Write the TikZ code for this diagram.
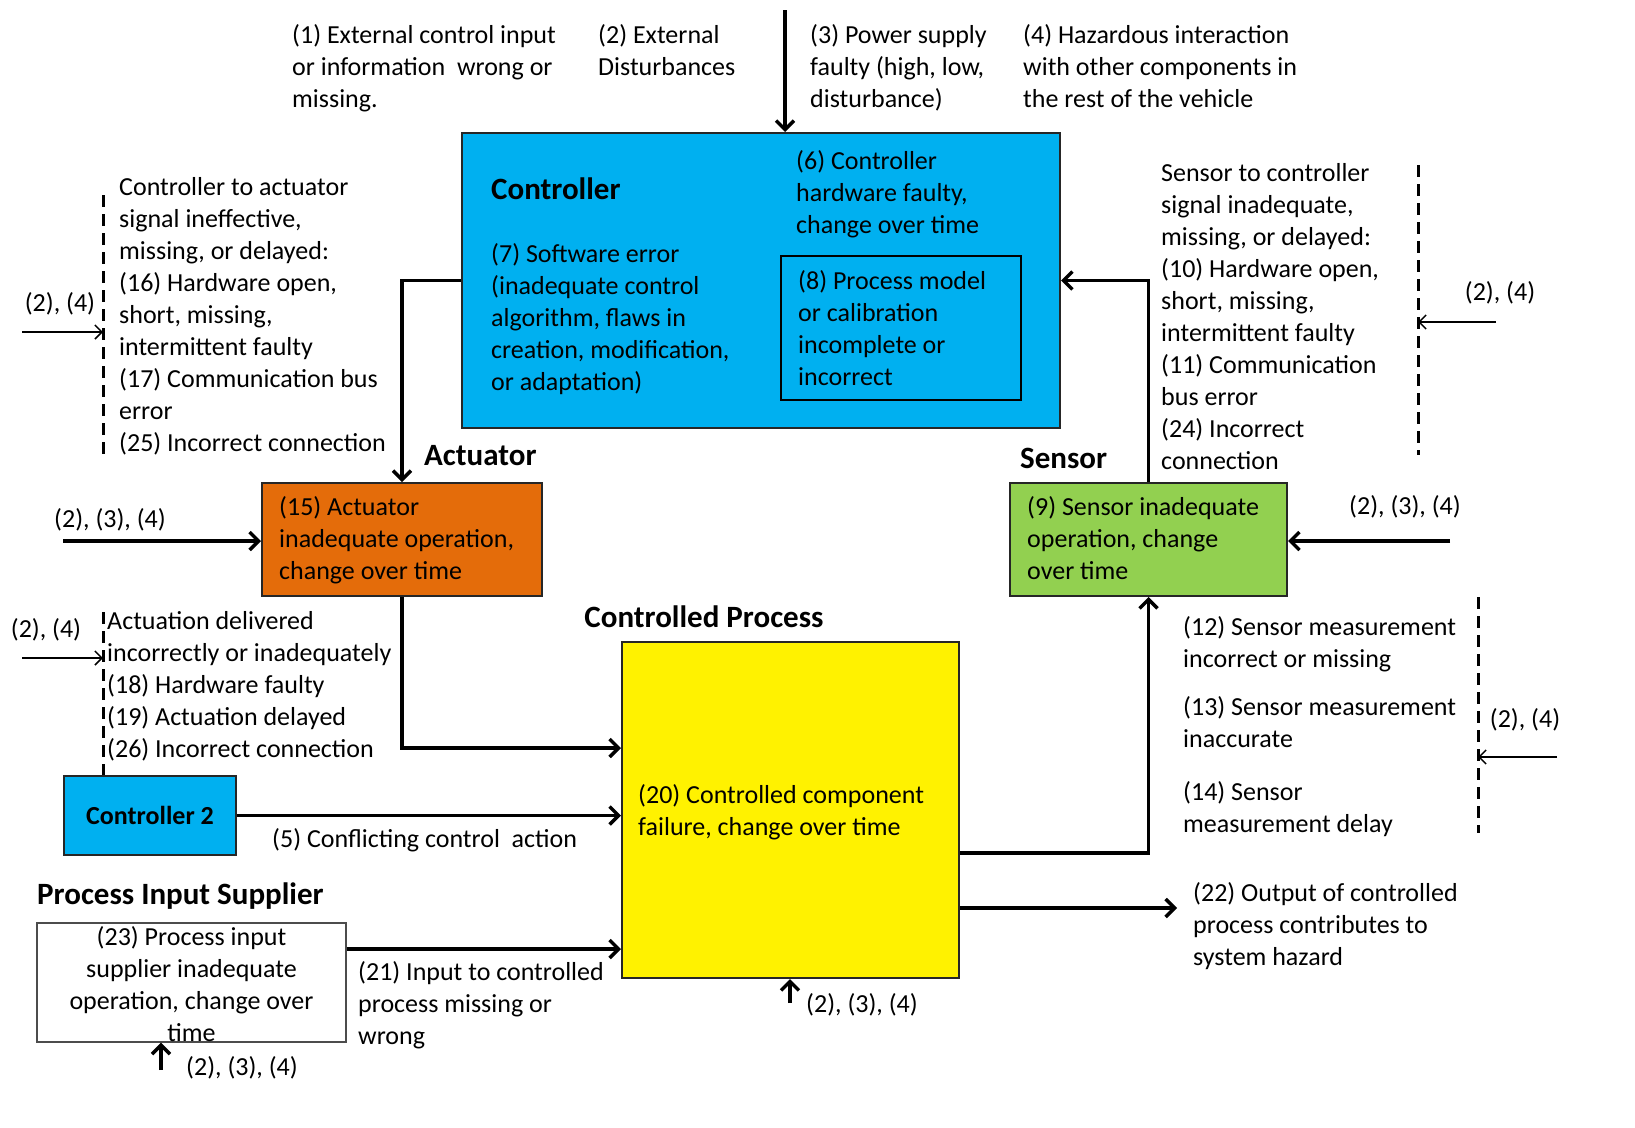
\documentclass[tikz,border=0pt]{standalone}
\usepackage{fontspec}
\setmainfont{Carlito}
\usetikzlibrary{arrows.meta}
\definecolor{ctrlblue}{HTML}{00B0F0}
\definecolor{actorange}{HTML}{E46C0A}
\definecolor{sensgreen}{HTML}{92D050}
\begin{document}
\begin{tikzpicture}[
    x=1pt, y=-1pt,
    every node/.style={font=\fontsize{26}{32}\selectfont},
    box/.style={rectangle, draw=black!85, line width=2pt},
    txt/.style={anchor=north west, inner sep=0pt, align=left},
    hdr/.style={inner sep=0pt, font=\fontsize{31}{37}\selectfont\bfseries},
    lbl/.style={inner sep=0pt},
    flow/.style={line width=3.5pt, -{Straight Barb[length=9pt,width=18pt]}},
    ext/.style={line width=1.5pt, -{Straight Barb[length=7pt,width=14pt]}},
    bound/.style={line width=3pt, dash pattern=on 12pt off 7pt}
]
\useasboundingbox (0,0) rectangle (1635,1127);

% External factors on top
\node[txt] (t1) at (292,24) {(1) External control input\\or information\ \ wrong or\\missing.};
\node[txt] (t2) at (598,24) {(2) External\\Disturbances};
\node[txt] (t3) at (810,24) {(3) Power supply\\faulty (high, low,\\disturbance)};
\node[txt] (t4) at (1023,24) {(4) Hazardous interaction\\with other components in\\the rest of the vehicle};

% Controller
\node[box, fill=ctrlblue, minimum width=598pt, minimum height=295pt] (ctrl) at (761,280.5) {};
\node[hdr, anchor=west] (ctrlhdr) at (491,189) {Controller};
\node[txt] (c6) at (796,150) {(6) Controller\\hardware faulty,\\change over time};
\node[txt] (c7) at (491,243) {(7) Software error\\(inadequate control\\algorithm, flaws in\\creation, modification,\\or adaptation)};
\node[box, draw=black, minimum width=240pt, minimum height=144pt] (pm) at (901,328) {};
\node[txt] (pmtxt) at (798,270) {(8) Process model\\or calibration\\incomplete or\\incorrect};

\coordinate (pwr) at (785,10);
\draw[flow] (pwr) -- (pwr |- ctrl.north);

% Controller to actuator
\node[txt] (ca) at (119,177) {Controller to actuator\\signal ineffective,\\missing, or delayed:\\(16) Hardware open,\\short, missing,\\intermittent faulty\\(17) Communication bus\\error\\(25) Incorrect connection};
\coordinate (caTop) at (103,195);
\coordinate (caBot) at (103,455);
\draw[bound] (caTop) -- (caBot);
\node[lbl] (ca24) at (60,304) {(2), (4)};
\coordinate (caIn) at (22,332);
\draw[ext] (caIn) -- (caIn -| caTop);

% Actuator
\node[hdr, anchor=west] (acthdr) at (424,456) {Actuator};
\node[box, fill=actorange, minimum width=280pt, minimum height=113pt] (act) at (402,539.5) {};
\node[txt] (acttxt) at (279,496) {(15) Actuator\\inadequate operation,\\change over time};
\node[lbl] (act234) at (110,520) {(2), (3), (4)};
\coordinate (actIn) at (63,541);
\draw[flow] (actIn) -- (actIn -| act.west);
\draw[flow] (ctrl.west) -| (act.north);

% Sensor
\node[hdr, anchor=west] (senshdr) at (1020,458) {Sensor};
\node[box, fill=sensgreen, minimum width=277pt, minimum height=113pt] (sens) at (1148.5,539.5) {};
\node[txt] (senstxt) at (1027,496) {(9) Sensor inadequate\\operation, change\\over time};
\node[lbl] (sens234) at (1405,507) {(2), (3), (4)};
\coordinate (sensIn) at (1450,541);
\draw[flow] (sensIn) -- (sensIn -| sens.east);
\draw[flow] (sens.north) |- (ctrl.east);

% Sensor to controller
\node[txt] (sc) at (1161,163) {Sensor to controller\\signal inadequate,\\missing, or delayed:\\(10) Hardware open,\\short, missing,\\intermittent faulty\\(11) Communication\\bus error\\(24) Incorrect\\connection};
\coordinate (scTop) at (1418,165);
\coordinate (scBot) at (1418,455);
\draw[bound] (scTop) -- (scBot);
\node[lbl] (sc24) at (1500,293) {(2), (4)};
\coordinate (scIn) at (1496,322);
\draw[ext] (scIn) -- (scIn -| scTop);

% Controlled process
\node[hdr] (prochdr) at (704,617) {Controlled Process};
\node[box, fill=yellow, minimum width=337pt, minimum height=336pt] (proc) at (790.5,810) {};
\node[txt] (proctxt) at (638,784) {(20) Controlled component\\failure, change over time};
\draw[flow] (act.south) |- ([yshift=62pt]proc.west);

% Actuation delivered
\node[txt] (ad) at (107,611) {Actuation delivered\\incorrectly or inadequately\\(18) Hardware faulty\\(19) Actuation delayed\\(26) Incorrect connection};
\coordinate (adTop) at (103,612);
\coordinate (adBot) at (103,775);
\draw[bound] (adTop) -- (adBot);
\node[lbl] (ad24) at (46,630) {(2), (4)};
\coordinate (adIn) at (22,658);
\draw[ext] (adIn) -- (adIn -| adTop);

% Controller 2
\node[box, fill=ctrlblue, minimum width=172pt, minimum height=79pt, font=\fontsize{26}{32}\selectfont\bfseries] (c2) at (150,815.5) {Controller 2};
\draw[flow] (c2.east) -- (c2.east -| proc.west);
\node[lbl, anchor=west] (c2lbl) at (272,840) {(5) Conflicting control\ \ action};

% Process input supplier
\node[hdr, anchor=west] (supphdr) at (37,896) {Process Input Supplier};
\node[box, draw=black!70, line width=1.2pt, fill=white, minimum width=309pt, minimum height=119pt] (supp) at (191.5,982.5) {};
\node[inner sep=0pt, align=center] (supptxt) at (191.5,984) {(23) Process input\\supplier inadequate\\operation, change over\\time};
\draw[flow] ([yshift=33.5pt]supp.east) -- ([yshift=33.5pt]supp.east -| proc.west);
\node[txt] (s21) at (358,961) {(21) Input to controlled\\process missing or\\wrong};
\coordinate (suppIn) at (161,1070);
\draw[flow] (suppIn) -- (suppIn |- supp.south);
\node[lbl, anchor=west] (supp234) at (186,1068) {(2), (3), (4)};
\coordinate (procIn) at (790,1003);
\draw[flow] (procIn) -- (procIn |- proc.south);
\node[lbl, anchor=west] (proc234) at (806,1005) {(2), (3), (4)};

% Measurement to sensor
\draw[flow] ([yshift=-43pt]proc.east) -| (sens.south);
\node[txt] (m12) at (1183,616) {(12) Sensor measurement\\incorrect or missing};
\node[txt] (m13) at (1183,696) {(13) Sensor measurement\\inaccurate};
\node[txt] (m14) at (1183,781) {(14) Sensor\\measurement delay};
\coordinate (mTop) at (1478,597);
\coordinate (mBot) at (1478,833);
\draw[bound] (mTop) -- (mBot);
\node[lbl] (m24) at (1525,720) {(2), (4)};
\coordinate (mIn) at (1557,757);
\draw[ext] (mIn) -- (mIn -| mTop);

% Output
\node[txt] (out22) at (1193,882) {(22) Output of controlled\\process contributes to\\system hazard};
\coordinate (outEnd) at (1177,908);
\draw[flow] ([yshift=-98pt]proc.east) -- (outEnd);
\end{tikzpicture}
\end{document}
